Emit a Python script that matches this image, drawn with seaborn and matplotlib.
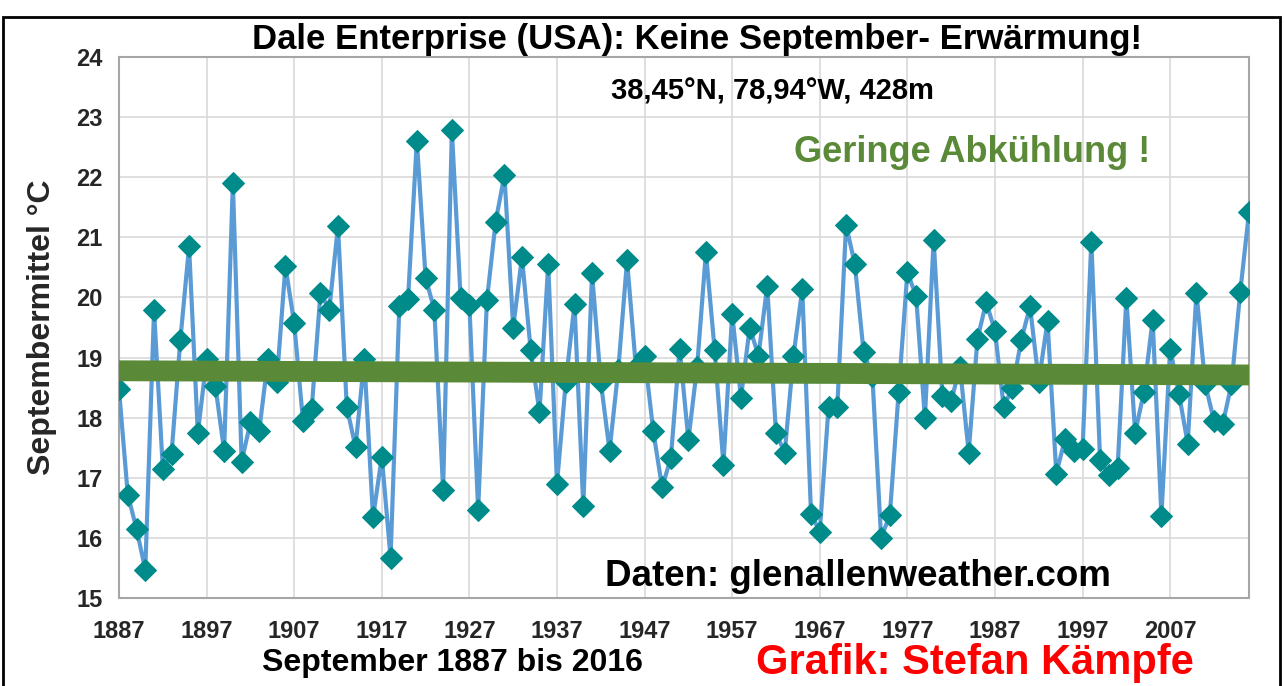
import numpy as np
import pandas as pd
import matplotlib
matplotlib.use("Agg")
import matplotlib.pyplot as plt
import seaborn as sns
from matplotlib.patches import Rectangle

# September means, Dale Enterprise 1887-2016
years = list(range(1887, 2017))
temps = [
    18.47, 16.72, 16.15, 15.47, 19.79, 17.15, 17.40, 19.29, 20.85, 17.74,  # 1887-1896
    18.97, 18.53, 17.45, 21.91, 17.27, 17.92, 17.77, 18.97, 18.59, 20.52,  # 1897-1906
    19.57, 17.95, 18.15, 20.08, 19.79, 21.19, 18.18, 17.51, 18.97, 16.34,  # 1907-1916
    17.35, 15.67, 19.85, 19.98, 22.61, 20.33, 19.79, 16.80, 22.78, 19.99,  # 1917-1926
    19.88, 16.46, 19.95, 21.26, 22.04, 19.50, 20.67, 19.12, 18.09, 20.56,  # 1927-1936
    16.90, 18.59, 19.89, 16.53, 20.40, 18.60, 17.45, 18.80, 20.62, 18.85,  # 1937-1946
    19.03, 17.77, 16.84, 17.33, 19.15, 17.63, 18.85, 20.75, 19.12, 17.22,  # 1947-1956
    19.73, 18.33, 19.50, 19.03, 20.19, 17.74, 17.42, 19.03, 20.14, 16.40,  # 1957-1966
    16.10, 18.18, 18.18, 21.20, 20.56, 19.09, 18.70, 16.00, 16.38, 18.42,  # 1967-1976
    20.42, 20.02, 17.99, 20.96, 18.36, 18.27, 18.85, 17.42, 19.31, 19.92,  # 1977-1986
    19.44, 18.18, 18.50, 19.29, 19.85, 18.60, 19.60, 17.07, 17.65, 17.45,  # 1987-1996
    17.48, 20.93, 17.30, 17.04, 17.16, 19.99, 17.75, 18.42, 19.63, 16.37,  # 1997-2006
    19.15, 18.40, 17.57, 20.08, 18.56, 17.95, 17.89, 18.56, 20.09, 21.42,  # 2007-2016
]
year_ticks = list(range(1887, 2008, 10))
y_ticks = list(range(15, 25))

df = pd.DataFrame({"year": years, "temp": temps})

line_col = "#5B9BD5"
marker_col = "#008B8B"
trend_col = "#5A8A37"

sns.set_style("white")
plt.rcParams["font.family"] = ["Liberation Sans", "DejaVu Sans"]
plt.rcParams["font.weight"] = "bold"

W, H = 1284, 686
fig = plt.figure(figsize=(W / 100, H / 100), dpi=100)
ax = fig.add_axes([119 / W, 1 - 598 / H, (1249 - 119) / W, (598 - 57) / H])

sns.lineplot(data=df, x="year", y="temp", ax=ax, color=line_col, linewidth=3,
             marker="D", markersize=11, markerfacecolor=marker_col,
             markeredgecolor=marker_col, zorder=3)
# linear trend drawn on top of the series
sns.regplot(data=df, x="year", y="temp", ax=ax, scatter=False, ci=None,
            color=trend_col, line_kws=dict(linewidth=15, solid_capstyle="butt", zorder=5))

ax.set_xlim(1887, 2016)
ax.set_ylim(15, 24)
ax.set_xticks(year_ticks)
ax.set_xticklabels([str(y) for y in year_ticks])
ax.set_yticks(y_ticks)
ax.tick_params(axis="x", labelsize=17, pad=16, length=0)
ax.tick_params(axis="y", labelsize=17, pad=12, length=0)
for lab in ax.get_xticklabels() + ax.get_yticklabels():
    lab.set_fontweight("bold")
ax.set_xlabel("")
ax.set_ylabel("")
ax.grid(True, color="#D9D9D9", linewidth=1.2)
ax.set_axisbelow(True)
for s in ax.spines.values():
    s.set_color("#A6A6A6")
    s.set_linewidth(1.5)

def ftext(x, y, s, **kw):
    fig.text(x / W, 1 - y / H, s, ha="center", va="center", fontweight="bold", **kw)

ftext(697, 40, "Dale Enterprise (USA): Keine September- Erwärmung!", fontsize=25, color="black")
ftext(772, 92, "38,45°N, 78,94°W, 428m", fontsize=21, color="black")
ftext(972, 152, "Geringe Abkühlung !", fontsize=26, color=trend_col)
ftext(858, 577, "Daten: glenallenweather.com", fontsize=26.5, color="black")
ftext(452, 663, "September 1887 bis 2016", fontsize=23, color="black")
ftext(975, 663, "Grafik: Stefan Kämpfe", fontsize=30, color="red")
fig.text(42 / W, 1 - 327 / H, "Septembermittel °C", rotation=90, ha="center", va="center",
         fontsize=23, fontweight="bold")

# outer frame
fig.patches.append(Rectangle((3 / W, -0.05), 1277 / W, 1 - 17 / H + 0.05, transform=fig.transFigure,
                             fill=False, edgecolor="black", linewidth=2))

fig.savefig("out.png", dpi=100)
